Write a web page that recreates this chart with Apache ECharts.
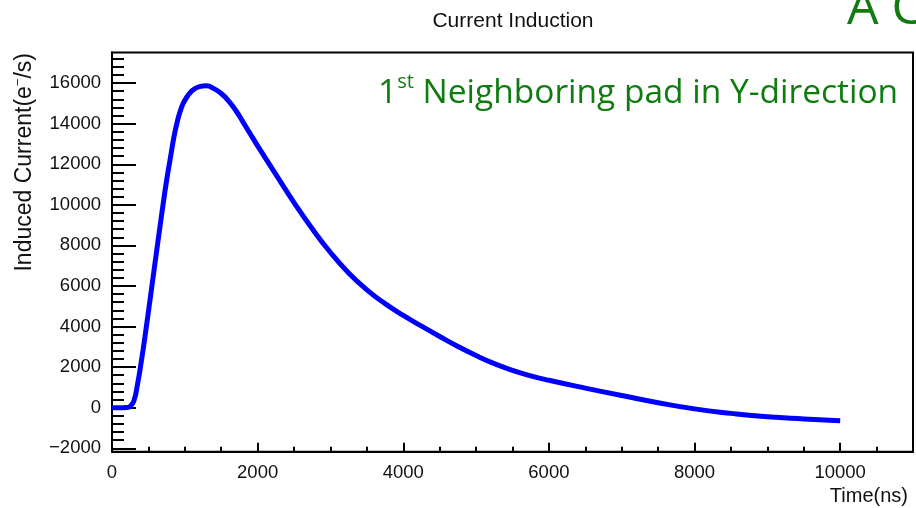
<!DOCTYPE html>
<html>
<head>
<meta charset="utf-8">
<script src="https://cdn.jsdelivr.net/npm/echarts@6/dist/echarts.min.js"></script>
<style>
html,body{margin:0;padding:0;background:#fff;}
#chart{width:916px;height:508px;}
</style>
</head>
<body>
<div id="chart"></div>
<script>
// ---- data ----
const timeNs = [0,100,200,250,300,350,400,450,500,550,600,650,700,750,800,850,900,950,1000,
  1100,1200,1300,1400,1500,1600,1700,1800,1900,2000,
  2250,2500,2750,3000,3250,3500,3750,4000,4250,4500,4750,5000,5250,5500,5750,6000,
  6500,7000,7500,8000,8500,9000,9500,10000];
const inducedCurrent = [0,0,10,70,330,1150,2220,3430,4730,6050,7380,8690,9990,11200,12280,13330,14150,14760,15150,
  15630,15830,15866,15730,15490,15130,14650,14080,13490,12910,
  11500,10110,8820,7650,6640,5810,5130,4550,4020,3510,3020,2570,2170,1840,1570,1350,
  965,600,245,-60,-280,-450,-555,-641];

const xMajorTicks = [0,2000,4000,6000,8000,10000];
const xMinorTicks = [500,1000,1500,2500,3000,3500,4500,5000,5500,6500,7000,7500,8500,9000,9500,10500];
const yMajorTicks = [-2000,0,2000,4000,6000,8000,10000,12000,14000,16000];
const yMinorTicks = [];
for (let v = -1600; v <= 17200; v += 400) { if (v % 2000 !== 0) yMinorTicks.push(v); }

const X_MIN = 0, X_MAX = 11000, Y_MIN = -2170, Y_MAX = 17510;

const labelFont = '"Liberation Sans", Arial, Helvetica, sans-serif';
const greenFont = '"Open Sans", "Noto Sans", sans-serif';
const green = '#107c10';

const chart = echarts.init(document.getElementById('chart'), null, {renderer: 'canvas'});

const fmt = v => (v < 0 ? '\u2212' + Math.abs(v) : String(v));

chart.setOption({
  animation: false,
  backgroundColor: '#fff',
  grid: {left: 112, right: 3, top: 52.5, bottom: 56.3, show: true, borderColor: '#000', borderWidth: 2, backgroundColor: 'transparent'},
  xAxis: [
    {type: 'value', min: X_MIN, max: X_MAX, position: 'bottom',
     axisLine: {show: true, onZero: false, lineStyle: {color: '#000', width: 2}},
     axisTick: {show: true, inside: true, length: 9, lineStyle: {color: '#000', width: 2}, customValues: xMajorTicks},
     axisLabel: {show: true, customValues: xMajorTicks, formatter: fmt, margin: 12, fontSize: 18.5, color: '#111', fontFamily: labelFont},
     splitLine: {show: false}},
    {type: 'value', min: X_MIN, max: X_MAX, position: 'bottom',
     axisLine: {show: false, onZero: false},
     axisTick: {show: true, inside: true, length: 5, lineStyle: {color: '#000', width: 2}, customValues: xMinorTicks},
     axisLabel: {show: false},
     splitLine: {show: false}}
  ],
  yAxis: [
    {type: 'value', min: Y_MIN, max: Y_MAX, position: 'left',
     axisLine: {show: true, onZero: false, lineStyle: {color: '#000', width: 2}},
     axisTick: {show: true, inside: true, length: 24, lineStyle: {color: '#000', width: 2}, customValues: yMajorTicks},
     axisLabel: {show: true, customValues: yMajorTicks, formatter: fmt, margin: 11, fontSize: 18.5, color: '#111', fontFamily: labelFont},
     splitLine: {show: false}},
    {type: 'value', min: Y_MIN, max: Y_MAX, position: 'left',
     axisLine: {show: false, onZero: false},
     axisTick: {show: true, inside: true, length: 12, lineStyle: {color: '#000', width: 2}, customValues: yMinorTicks},
     axisLabel: {show: false},
     splitLine: {show: false}}
  ],
  series: [{
    type: 'line',
    xAxisIndex: 0, yAxisIndex: 0,
    data: timeNs.map((t, i) => [t, inducedCurrent[i]]),
    showSymbol: false,
    smooth: 0.5,
    lineStyle: {color: '#0000ff', width: 5, cap: 'butt', join: 'round'},
    z: 3
  }],
  graphic: [
    {type: 'text', x: 513, y: 21, style: {text: 'Current Induction', font: '21px ' + labelFont, fill: '#111', align: 'center', verticalAlign: 'middle'}},
    {type: 'text', x: 908, y: 496, style: {text: 'Time(ns)', font: '20px ' + labelFont, fill: '#111', align: 'right', verticalAlign: 'middle'}},
    {type: 'text', x: 25, y: 53, rotation: Math.PI / 2, style: {
      text: '{a|Induced Current(e}{b|\u2212}{a|/s)}', fill: '#111', align: 'right', verticalAlign: 'middle',
      rich: {a: {fontSize: 23, fontFamily: labelFont, fill: '#111', lineHeight: 26},
             b: {fontSize: 13, fontFamily: labelFont, fill: '#111', lineHeight: 13, verticalAlign: 'top'}}}},
    {type: 'text', x: 378, y: 93, style: {
      text: '{n|1}{s|st}{n| Neighboring pad in Y-direction}', align: 'left', verticalAlign: 'middle',
      rich: {n: {fontSize: 33.5, fontFamily: greenFont, fill: green, lineHeight: 42},
             s: {fontSize: 20, fontFamily: greenFont, fill: green, lineHeight: 28, verticalAlign: 'top'}}}},
    {type: 'text', x: 847, y: 10, style: {text: 'A C', font: '50px ' + greenFont, fill: green, align: 'left', verticalAlign: 'middle'}}
  ]
});
</script>
</body>
</html>
